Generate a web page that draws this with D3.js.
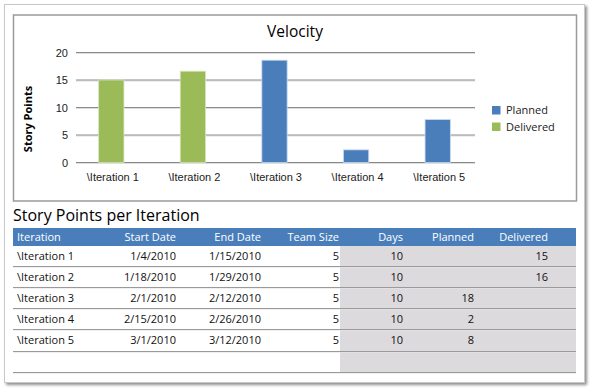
<!DOCTYPE html>
<html><head><meta charset="utf-8">
<script src="https://cdn.jsdelivr.net/npm/d3@7/dist/d3.min.js"></script>
<style>
body{margin:0;background:#fff;}
svg{display:block;font-family:"Segoe UI","Open Sans","Noto Sans",sans-serif;}
</style></head><body>
<svg id="c" width="594" height="392"></svg>
<script>
const categories = ["\\Iteration 1","\\Iteration 2","\\Iteration 3","\\Iteration 4","\\Iteration 5"];
const plannedValues = [null, null, 18.6, 2.3, 7.8];
const deliveredValues = [15, 16.6, null, null, null];
const yTicks = [0, 5, 10, 15, 20];
const seriesNames = ["Planned", "Delivered"];
const seriesColors = ["#4a7ebb", "#9bbb59"];

const tableHeaders = ["Iteration","Start Date","End Date","Team Size","Days","Planned","Delivered"];
const startDates = ["1/4/2010","1/18/2010","2/1/2010","2/15/2010","3/1/2010"];
const endDates = ["1/15/2010","1/29/2010","2/12/2010","2/26/2010","3/12/2010"];
const teamSizes = [5,5,5,5,5];
const daysList = [10,10,10,10,10];
const plannedLabels = ["","","18","2","8"];
const deliveredLabels = ["15","16","","",""];

const svg = d3.select("#c");
const defs = svg.append("defs");
const f = defs.append("filter").attr("id","sh").attr("x","-5%").attr("y","-5%").attr("width","110%").attr("height","110%");
f.append("feGaussianBlur").attr("in","SourceAlpha").attr("stdDeviation",1.5);
f.append("feOffset").attr("dx",2).attr("dy",2).attr("result","ob");
f.append("feComponentTransfer").append("feFuncA").attr("type","linear").attr("slope",0.45);
const fm = f.append("feMerge"); fm.append("feMergeNode"); fm.append("feMergeNode").attr("in","SourceGraphic");

// outer panel
svg.append("rect").attr("x",4.5).attr("y",4.5).attr("width",580).attr("height",378)
  .attr("fill","#fff").attr("stroke","#c9c9c9").attr("filter","url(#sh)");
// chart box
svg.append("rect").attr("x",13.5).attr("y",15).attr("width",563).attr("height",186)
  .attr("fill","#fff").attr("stroke","#9a9a9a").attr("stroke-width",1.5);

// chart
svg.append("text").attr("x",295).attr("y",37).attr("text-anchor","middle")
  .attr("font-size",15.5).attr("fill","#000").text("Velocity");

const x = d3.scaleBand().domain(categories).range([72,480]).paddingInner(0.69).paddingOuter(0.345);
const y = d3.scaleLinear().domain([0,20]).range([162.5,52.5]);

const g = svg.append("g");
yTicks.forEach(t=>{
  g.append("line").attr("x1",76).attr("x2",475).attr("y1",y(t)+1).attr("y2",y(t)+1).attr("stroke","#dedede");
  g.append("line").attr("x1",76).attr("x2",475).attr("y1",y(t)).attr("y2",y(t)).attr("stroke","#8a8a8a");
});
const ya = svg.append("g").attr("transform","translate(76,0)")
  .call(d3.axisLeft(y).tickValues(yTicks).tickSize(0).tickPadding(8));
ya.select(".domain").remove();
ya.selectAll("text").attr("font-size",11).attr("fill","#222").style("font-family","inherit");

const xa = svg.append("g").attr("transform","translate(0,"+(y(0))+")")
  .call(d3.axisBottom(x).tickSize(0).tickPadding(11));
xa.select(".domain").remove();
xa.selectAll("text").attr("font-size",11).attr("fill","#222").style("font-family","inherit");

svg.append("text").attr("transform","translate(32,119) rotate(-90)").attr("text-anchor","middle")
  .attr("font-size",11).attr("font-weight","bold").attr("fill","#000").text("Story Points");

const bars = [];
categories.forEach((c,i)=>{
  if(plannedValues[i]!=null) bars.push({c, v:plannedValues[i], s:0});
  if(deliveredValues[i]!=null) bars.push({c, v:deliveredValues[i], s:1});
});
svg.append("g").selectAll("rect").data(bars).join("rect")
  .attr("x",d=>x(d.c)-1.5).attr("width",x.bandwidth())
  .attr("y",d=>y(d.v)).attr("height",d=>y(0)-y(d.v))
  .attr("fill",d=>seriesColors[d.s])
  .attr("stroke",d=>d.s===0?"#c6d9f1":"#d7e4bd").attr("stroke-width",0.8);

// legend
seriesNames.forEach((n,i)=>{
  const ly = 106 + i*16.5;
  svg.append("rect").attr("x",492).attr("y",ly).attr("width",8.5).attr("height",8.5).attr("fill",seriesColors[i]);
  svg.append("text").attr("x",506).attr("y",ly+4.5).attr("dy","0.35em").attr("font-size",11).attr("fill","#222").text(n);
});

// table
svg.append("text").attr("x",13).attr("y",221).attr("font-size",16).attr("fill","#000").text("Story Points per Iteration");
const tx0 = 13, tx1 = 576;
svg.append("rect").attr("x",340).attr("y",246).attr("width",tx1-340).attr("height",126).attr("fill","#dcdadd");
svg.append("rect").attr("x",tx0).attr("y",228).attr("width",tx1-tx0).attr("height",18).attr("fill","#4a7ebb");

const cols = [
  {x:17, a:"start"},{x:176,a:"end"},{x:261,a:"end"},{x:339,a:"end"},
  {x:403,a:"end"},{x:474,a:"end"},{x:548,a:"end"}
];
tableHeaders.forEach((h,i)=>{
  svg.append("text").attr("x",cols[i].x).attr("y",237).attr("dy","0.35em").attr("text-anchor",cols[i].a)
    .attr("font-size",11).attr("fill","#fff").text(h);
});
const lineYs = [266,287,308,329,351,372];
const rowTop = [246,266,287,308,329];
lineYs.forEach(ly=>{
  svg.append("line").attr("x1",tx0).attr("x2",tx1).attr("y1",ly+0.5).attr("y2",ly+0.5).attr("stroke","#9a9a9a");
  svg.append("line").attr("x1",tx0).attr("x2",tx1).attr("y1",ly+1.5).attr("y2",ly+1.5).attr("stroke","#e6e6e6").attr("stroke-opacity",0.6);
});
categories.forEach((c,r)=>{
  const vals = [c, startDates[r], endDates[r], teamSizes[r], daysList[r], plannedLabels[r], deliveredLabels[r]];
  const cy = (rowTop[r] + lineYs[r]) / 2 + 0.5;
  vals.forEach((v,i)=>{
    svg.append("text").attr("x",cols[i].x).attr("y",cy).attr("dy","0.35em").attr("text-anchor",cols[i].a)
      .attr("font-size",11).attr("fill","#111").text(v);
  });
});
</script></body></html>
